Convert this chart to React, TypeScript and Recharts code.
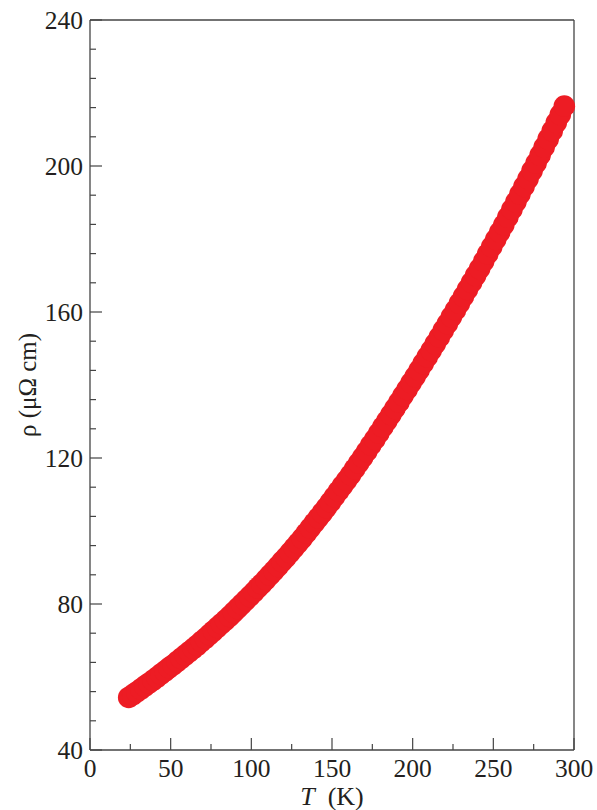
import React from "react";
import {
  ScatterChart,
  Scatter,
  XAxis,
  YAxis,
  ReferenceLine,
} from "recharts";

// temperature (K)
const temps = [
  24, 26.5, 29, 31.5, 34, 36.5, 39, 41.5, 44, 46.5, 49, 51.5, 54, 56.5, 59,
  61.5, 64, 66.5, 69, 71.5, 74, 76.5, 79, 81.5, 84, 86.5, 89, 91.5, 94, 96.5,
  99, 101.5, 104, 106.5, 109, 111.5, 114, 116.5, 119, 121.5, 124, 126.5, 129,
  131.5, 134, 136.5, 139, 141.5, 144, 146.5, 149, 151.5, 154, 156.5, 159,
  161.5, 164, 166.5, 169, 171.5, 174, 176.5, 179, 181.5, 184, 186.5, 189,
  191.5, 194, 196.5, 199, 201.5, 204, 206.5, 209, 211.5, 214, 216.5, 219,
  221.5, 224, 226.5, 229, 231.5, 234, 236.5, 239, 241.5, 244, 246.5, 249,
  251.5, 254, 256.5, 259, 261.5, 264, 266.5, 269, 271.5, 274, 276.5, 279,
  281.5, 284, 286.5, 289, 291.5, 294,
];

// resistivity (µΩ cm)
const rho = [
  54.4, 55.1, 55.9, 56.7, 57.5, 58.3, 59.1, 59.9, 60.8, 61.6, 62.5, 63.3,
  64.2, 65.1, 66.0, 66.9, 67.8, 68.7, 69.7, 70.6, 71.6, 72.6, 73.6, 74.6,
  75.6, 76.6, 77.7, 78.8, 79.9, 81.0, 82.1, 83.2, 84.4, 85.5, 86.7, 87.9,
  89.1, 90.3, 91.6, 92.8, 94.1, 95.4, 96.7, 98.0, 99.4, 100.8, 102.2, 103.6,
  105.0, 106.4, 107.9, 109.4, 110.9, 112.4, 113.9, 115.4, 117.0, 118.6, 120.2,
  121.8, 123.5, 125.1, 126.8, 128.5, 130.2, 131.9, 133.6, 135.3, 137.1, 138.8,
  140.6, 142.3, 144.1, 145.9, 147.7, 149.5, 151.3, 153.1, 155.0, 156.8, 158.7,
  160.5, 162.4, 164.3, 166.2, 168.1, 170.0, 171.9, 173.9, 175.9, 177.9, 179.9,
  181.9, 183.9, 186.0, 188.1, 190.2, 192.3, 194.4, 196.5, 198.7, 200.8, 203.0,
  205.2, 207.4, 209.6, 211.9, 214.1, 216.4,
];

const xTicks = [0, 25, 50, 75, 100, 125, 150, 175, 200, 225, 250, 275, 300];
const yTicks = [
  40, 48, 56, 64, 72, 80, 88, 96, 104, 112, 120, 128, 136, 144, 152, 160, 168,
  176, 184, 192, 200, 208, 216, 224, 232, 240,
];

const data = temps.map((t, i) => ({ T: t, rho: rho[i] }));

const FONT = "'Liberation Serif', 'Times New Roman', serif";
const INK = "#231f20";
const AXIS = "#444";

const YTick = (props: any) => {
  const { x, y, payload } = props;
  const major = payload.value % 40 === 0;
  return (
    <g>
      <line x1={x} x2={x + (major ? 12 : 6)} y1={y} y2={y} stroke={AXIS} strokeWidth={1.2} />
      {major && (
        <text x={x - 7} y={y} dy="0.35em" textAnchor="end" fontFamily={FONT} fontSize={25.5} fill={INK}>
          {payload.value}
        </text>
      )}
    </g>
  );
};

const XTick = (props: any) => {
  const { x, y, payload } = props;
  const major = payload.value % 50 === 0;
  return (
    <g>
      <line x1={x} x2={x} y1={y} y2={y - (major ? 12 : 6)} stroke={AXIS} strokeWidth={1.2} />
      {major && (
        <text x={x} y={y + 27} textAnchor="middle" fontFamily={FONT} fontSize={25.5} fill={INK}>
          {payload.value}
        </text>
      )}
    </g>
  );
};

const XTitle = (props: any) => {
  const { x, y, width } = props.viewBox;
  return (
    <text x={x + width / 2} y={y + 55} textAnchor="middle" fontFamily={FONT} fontSize={26} fill={INK}>
      <tspan fontStyle="italic">T</tspan>
      {"\u00a0\u00a0(K)"}
    </text>
  );
};

const YTitle = (props: any) => {
  const { y, height } = props.viewBox;
  const cx = 36;
  const cy = y + height / 2;
  return (
    <text
      x={cx}
      y={cy}
      transform={`rotate(-90, ${cx}, ${cy})`}
      textAnchor="middle"
      fontFamily={FONT}
      fontSize={25}
      fill={INK}
    >
      ρ (μΩ cm)
    </text>
  );
};

const Dot = (props: any) => (
  <circle cx={props.cx} cy={props.cy} r={10.8} fill="#ed1c24" />
);

export default function App() {
  return (
    <div style={{ width: 597, height: 810 }}>
      <style>{"html,body{margin:0;padding:0;overflow:hidden}"}</style>
      <ScatterChart
        width={597}
        height={810}
        margin={{ top: 20, right: 23, left: 0, bottom: 0 }}
        style={{ overflow: "visible" }}
      >
        <XAxis
          type="number"
          dataKey="T"
          domain={[0, 300]}
          ticks={xTicks}
          interval={0}
          height={60}
          tickSize={0}
          tickMargin={0}
          tickLine={false}
          tick={<XTick />}
          axisLine={{ stroke: AXIS, strokeWidth: 1.3 }}
          label={<XTitle />}
        />
        <YAxis
          type="number"
          dataKey="rho"
          domain={[40, 240]}
          ticks={yTicks}
          interval={0}
          width={90}
          tickSize={0}
          tickMargin={0}
          tickLine={false}
          tick={<YTick />}
          axisLine={{ stroke: AXIS, strokeWidth: 1.3 }}
          label={<YTitle />}
        />
        <ReferenceLine y={240} stroke={AXIS} strokeWidth={1.3} />
        <ReferenceLine x={300} stroke={AXIS} strokeWidth={1.3} />
        <Scatter data={data} shape={<Dot />} isAnimationActive={false} />
      </ScatterChart>
    </div>
  );
}
